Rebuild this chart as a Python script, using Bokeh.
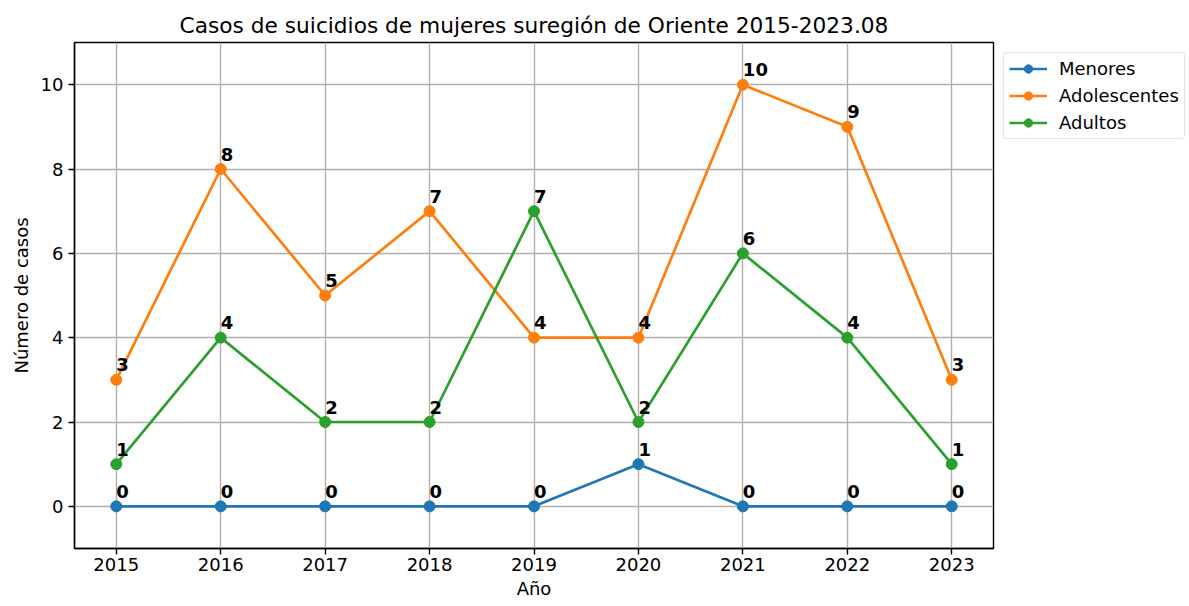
from bokeh.plotting import figure
from bokeh.models import Range1d, FixedTicker, Legend, LegendItem, ColumnDataSource
from bokeh.core.properties import value
from bokeh.embed import file_html
from bokeh.resources import INLINE

years = [2015, 2016, 2017, 2018, 2019, 2020, 2021, 2022, 2023]
menores = [0, 0, 0, 0, 0, 1, 0, 0, 0]
adolescentes = [3, 8, 5, 7, 4, 4, 10, 9, 3]
adultos = [1, 4, 2, 2, 7, 2, 6, 4, 1]
series_names = ["Menores", "Adolescentes", "Adultos"]
colors = ["#1f77b4", "#ff7f0e", "#2ca02c"]
title_text = "Casos de suicidios de mujeres suregión de Oriente 2015-2023.08"
y_ticks = [0, 2, 4, 6, 8, 10]

FONT = "DejaVu Sans"
FS = "18px"

p = figure(frame_width=919, frame_height=506, output_backend="svg", toolbar_location=None,
           x_range=Range1d(2014.6, 2023.4), y_range=Range1d(-1, 11),
           min_border_left=74, min_border_right=0, min_border_top=42, min_border_bottom=58)

p.title.text = title_text
p.title.align = "center"
p.title.text_font = FONT
p.title.text_font_size = "21.7px"
p.title.text_font_style = "normal"
p.title.text_color = "#000000"

p.outline_line_color = "black"
p.outline_line_width = 1.4
p.background_fill_color = "white"
p.border_fill_color = "white"

for ax in (p.xaxis[0], p.yaxis[0]):
    ax.axis_line_color = "black"
    ax.axis_line_width = 1.4
    ax.major_tick_line_color = "black"
    ax.major_tick_line_width = 1.4
    ax.major_tick_out = 6
    ax.major_tick_in = 0
    ax.minor_tick_line_color = None
    ax.major_label_text_font = FONT
    ax.major_label_text_font_size = FS
    ax.major_label_text_color = "#000000"
    ax.axis_label_text_font = FONT
    ax.axis_label_text_font_size = FS
    ax.axis_label_text_font_style = "normal"
    ax.axis_label_text_color = "#000000"

p.xaxis.ticker = FixedTicker(ticks=years)
p.xaxis.major_label_overrides = {y: str(y) for y in years}
p.yaxis.ticker = FixedTicker(ticks=y_ticks)
p.xaxis.axis_label = "Año"
p.yaxis.axis_label = "Número de casos"
p.xaxis.major_label_standoff = 3
p.yaxis.major_label_standoff = 5
p.xaxis.axis_label_standoff = 4
p.yaxis.axis_label_standoff = 6

p.grid.grid_line_color = "#b0b0b0"
p.grid.grid_line_width = 1.4

items = []
for name, vals, col in zip(series_names, [menores, adolescentes, adultos], colors):
    src = ColumnDataSource(dict(x=years, y=vals, t=[str(v) for v in vals]))
    r1 = p.line("x", "y", source=src, line_color=col, line_width=2.7)
    r2 = p.scatter("x", "y", source=src, size=11, fill_color=col, line_color=col)
    p.text("x", "y", text="t", source=src, text_font=value(FONT), text_font_style="bold",
           text_font_size=FS, text_align="left", text_baseline="alphabetic",
           y_offset=-15, x_offset=0, text_color="black")
    items.append(LegendItem(label=name, renderers=[r1, r2]))

legend = Legend(items=items, location="top_left")
legend.label_text_font = FONT
legend.label_text_font_size = FS
legend.label_text_color = "#000000"
legend.border_line_color = "#cccccc"
legend.border_line_width = 1
legend.border_radius = 4
legend.background_fill_alpha = 1
legend.glyph_width = 38
legend.glyph_height = 21
legend.label_standoff = 12
legend.spacing = 6
legend.padding = 5
legend.margin = 10
p.add_layout(legend, "right")

open("out.html", "w").write(file_html(p, INLINE))
